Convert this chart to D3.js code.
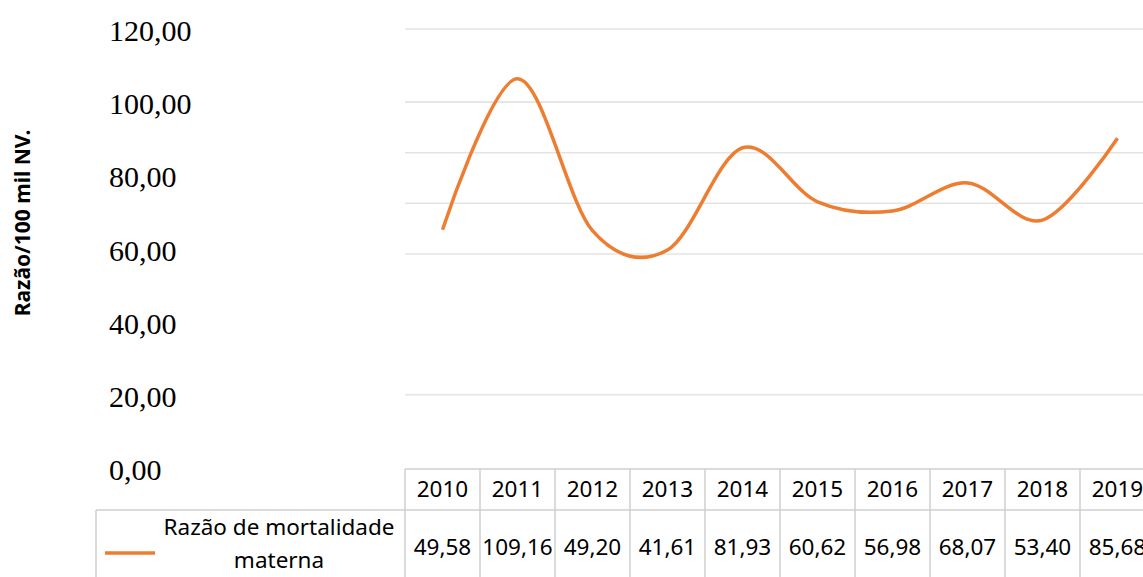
<!DOCTYPE html>
<html>
<head>
<meta charset="utf-8">
<script src="https://cdn.jsdelivr.net/npm/d3@7"></script>
<style>
  body { margin: 0; background: #ffffff; }
  svg { display: block; }
</style>
</head>
<body>
<div id="chart_div"></div>
<script>
// data
var years = ['2010', '2011', '2012', '2013', '2014', '2015', '2016', '2017', '2018', '2019'];
var razao = [49.58, 109.16, 49.20, 41.61, 81.93, 60.62, 56.98, 68.07, 53.40, 85.68];
var y_label_ticks = [0, 20, 40, 60, 80, 100, 120];
var data_grid_ticks = [40, 60, 80, 100];
var label_grid_ticks = [120, 100, 20];
var series_name = ['Razão de mortalidade', 'materna'];
var y_title = 'Razão/100 mil NV.';

function figure() {
    var width = 1143;
    var height = 577;

    var line_color = '#ED7D31';
    var grid_color = '#e4e4e4';
    var table_color = '#cfcfcf';
    var sans = "'Noto Sans', 'Open Sans', sans-serif";

    var table_left = 405;
    var table_top = 469;
    var header_bottom = 510;
    var legend_left = 96;

    var br = d3.formatLocale({ decimal: ',', thousands: '.', grouping: [3], currency: ['R$', ''] });
    var fmt = br.format('.2f');

    var svg = d3.select('#chart_div')
        .append('svg')
        .attr('width', width)
        .attr('height', height)
        .attr('viewBox', `0 0 ${width} ${height}`);

    // one column per year, shared by the line and the data table
    var x = d3.scaleBand()
        .domain(years)
        .range([table_left, table_left + 75 * years.length]);

    // scale used by the plotted series
    var y_data = d3.scaleLinear()
        .domain([40, 100])
        .range([254, 102]);

    // scale used by the (serif) value labels on the left
    var y_label = d3.scaleLinear()
        .domain([0, 120])
        .range([468, 29]);

    // gridlines
    var grid = svg.append('g').attr('class', 'grid');
    grid.selectAll('line.data')
        .data(data_grid_ticks)
        .enter()
        .append('line')
        .attr('class', 'data')
        .attr('x1', table_left)
        .attr('x2', width)
        .attr('y1', function(d) { return y_data(d); })
        .attr('y2', function(d) { return y_data(d); })
        .style('stroke', grid_color)
        .style('stroke-width', 1.5);
    grid.selectAll('line.lab')
        .data(label_grid_ticks)
        .enter()
        .append('line')
        .attr('class', 'lab')
        .attr('x1', table_left)
        .attr('x2', width)
        .attr('y1', function(d) { return y_label(d); })
        .attr('y2', function(d) { return y_label(d); })
        .style('stroke', grid_color)
        .style('stroke-width', 1.5);

    // y labels
    svg.append('g')
        .selectAll('text')
        .data(y_label_ticks)
        .enter()
        .append('text')
        .attr('x', 109)
        .attr('y', function(d) { return y_label(d) + 12; })
        .text(function(d) { return fmt(d); })
        .style('font-family', "'Liberation Serif', 'Times New Roman', serif")
        .style('font-size', '30px')
        .style('fill', '#000');

    // y title
    svg.append('text')
        .attr('transform', 'translate(30, 223) rotate(-90)')
        .attr('text-anchor', 'middle')
        .text(y_title)
        .style('font-family', sans)
        .style('font-weight', 'bold')
        .style('font-size', '21px')
        .style('fill', '#000');

    // the series
    var points = years.map(function(yr, i) { return { year: yr, value: razao[i] }; });
    var line = d3.line()
        .x(function(d) { return x(d.year) + x.bandwidth() / 2; })
        .y(function(d) { return y_data(d.value); })
        .curve(d3.curveCatmullRom.alpha(0));

    svg.append('path')
        .datum(points)
        .attr('d', line)
        .style('fill', 'none')
        .style('stroke', line_color)
        .style('stroke-width', 3.5)
        .style('stroke-linejoin', 'round');

    // data table
    var table = svg.append('g').attr('class', 'table');
    var table_right = x.range()[1];
    var table_bottom = 600;

    table.append('line')
        .attr('x1', table_left).attr('x2', table_right)
        .attr('y1', table_top).attr('y2', table_top);
    table.append('line')
        .attr('x1', legend_left).attr('x2', table_right)
        .attr('y1', header_bottom).attr('y2', header_bottom);
    table.append('line')
        .attr('x1', legend_left).attr('x2', legend_left)
        .attr('y1', header_bottom).attr('y2', table_bottom);
    table.selectAll('line.col')
        .data(years)
        .enter()
        .append('line')
        .attr('class', 'col')
        .attr('x1', function(d) { return x(d); })
        .attr('x2', function(d) { return x(d); })
        .attr('y1', table_top)
        .attr('y2', table_bottom);
    table.selectAll('line')
        .style('stroke', table_color)
        .style('stroke-width', 1.5);

    table.selectAll('text.year')
        .data(years)
        .enter()
        .append('text')
        .attr('class', 'year')
        .attr('x', function(d) { return x(d) + x.bandwidth() / 2; })
        .attr('y', 497)
        .attr('text-anchor', 'middle')
        .text(function(d) { return d; });

    table.selectAll('text.val')
        .data(points)
        .enter()
        .append('text')
        .attr('class', 'val')
        .attr('x', function(d) { return x(d.year) + x.bandwidth() / 2; })
        .attr('y', 555)
        .attr('text-anchor', 'middle')
        .text(function(d) { return fmt(d.value); });

    // legend key inside the table
    table.append('line')
        .attr('x1', 105).attr('x2', 155)
        .attr('y1', 553).attr('y2', 553)
        .style('stroke', line_color)
        .style('stroke-width', 3.5);

    table.selectAll('text.legend')
        .data(series_name)
        .enter()
        .append('text')
        .attr('class', 'legend')
        .attr('x', 279)
        .attr('y', function(d, i) { return 535 + i * 33; })
        .attr('text-anchor', 'middle')
        .text(function(d) { return d; });

    table.selectAll('text')
        .style('font-family', sans)
        .style('font-size', '22.5px')
        .style('fill', '#000');
}

figure();
</script>
</body>
</html>
